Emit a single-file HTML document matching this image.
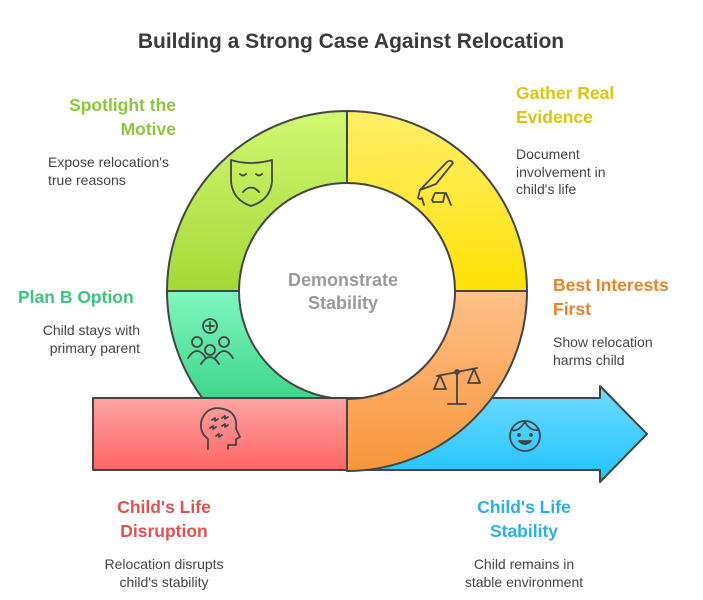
<!DOCTYPE html>
<html><head><meta charset="utf-8"><style>
body{margin:0;background:#fff;}
svg{display:block;font-family:"Liberation Sans",sans-serif;}
</style></head><body>
<svg width="703" height="600" viewBox="0 0 703 600">
<defs>
<linearGradient id="gl" x1="0" y1="0" x2="0" y2="1"><stop offset="0" stop-color="#d0f772"/><stop offset="1" stop-color="#a3d936"/></linearGradient>
<linearGradient id="gy" x1="0" y1="0" x2="0" y2="1"><stop offset="0" stop-color="#ffee6a"/><stop offset="1" stop-color="#ffe205"/></linearGradient>
<linearGradient id="gg" x1="0" y1="0" x2="0" y2="1"><stop offset="0" stop-color="#80f7c0"/><stop offset="1" stop-color="#3ed68a"/></linearGradient>
<linearGradient id="go" x1="0" y1="0" x2="0" y2="1"><stop offset="0" stop-color="#ffc088"/><stop offset="1" stop-color="#f7963b"/></linearGradient>
<linearGradient id="gr" x1="0" y1="0" x2="0" y2="1"><stop offset="0" stop-color="#ffa3a3"/><stop offset="1" stop-color="#ff6565"/></linearGradient>
<linearGradient id="gb" x1="0" y1="0" x2="0" y2="1"><stop offset="0" stop-color="#6fdcff"/><stop offset="1" stop-color="#1fc3ff"/></linearGradient>
</defs>
<text x="351" y="48" text-anchor="middle" font-size="21" font-weight="bold" fill="#3a3a3a">Building a Strong Case Against Relocation</text>

<g stroke="#444" stroke-width="2" stroke-linejoin="round">
<rect x="93" y="398" width="254" height="72" fill="url(#gr)"/>
<path d="M347,398 L600,398 L600,386 L647,434 L600,482 L600,470 L347,470 Z" fill="url(#gb)"/>
<path d="M167,291 A180,180 0 0 1 347,111 L347,183 A108,108 0 0 0 239,291 Z" fill="url(#gl)"/>
<path d="M347,111 A180,180 0 0 1 527,291 L455,291 A108,108 0 0 0 347,183 Z" fill="url(#gy)"/>
<path d="M167,291 L239,291 A108,108 0 0 0 332.3,398 L202.3,398 A180,180 0 0 1 167,291 Z" fill="url(#gg)"/>
<path d="M527,291 A180,180 0 0 1 347,471 L347,399 A108,108 0 0 0 455,291 Z" fill="url(#go)"/>
</g>

<text x="343" y="286" text-anchor="middle" font-size="18" font-weight="bold" fill="#999">Demonstrate</text>
<text x="343" y="309" text-anchor="middle" font-size="18" font-weight="bold" fill="#999">Stability</text>

<g fill="none" stroke="#444" stroke-width="1.8" stroke-linecap="round" stroke-linejoin="round">
<path d="M231,160 Q250,166 272,160 L272,182 Q270,200 251,206 Q233,200 231,182 Z"/>
<path d="M240,174 q3,3 6,0 M256,174 q3,3 6,0 M243,192 q8,-9 16,0"/>
<path d="M420,190 L447,162 q4,-3 6,1 L436,184 Z M420,190 L418,198 q2,2 4,0 L424,205 M432,200 l3,-7 h10 l-2,9 h-10 Z M446,193 l5,12"/>
<circle cx="210" cy="326" r="7"/><path d="M206,326 h8 M210,322 v8"/>
<circle cx="197" cy="342" r="5"/><path d="M188,358 q9,-14 18,0"/>
<circle cx="224" cy="342" r="5"/><path d="M215,358 q9,-14 18,0"/>
<circle cx="210" cy="350" r="5"/><path d="M201,364 q9,-14 18,0"/>
<path d="M457,372 v32 M448,404 h18 M437,376 l40,-8 M440,375 l-6,14 h12 z M474,369 l-6,14 h12 z"/>
<circle cx="457" cy="372" r="2"/>
<path d="M208,449 v-10 q-10,-8 -6,-20 q6,-14 22,-10 q14,4 12,20 l4,8 l-4,2 v6 h-8 v4"/>
<path d="M212,420 l3,-2 l0,3 l3,-2 M222,418 l3,-2 l0,3 l3,-2 M210,428 l3,-2 l0,3 l3,-2 M222,426 l3,-2 l0,3 l3,-2 M216,436 l3,-2 l0,3 l3,-2"/>
<circle cx="525" cy="436" r="15"/>
<path d="M512,430 q6,2 13,-8 q5,9 13,8"/>
<path d="M519,441 q6,6 12,0 z" fill="#444"/>
<circle cx="519" cy="435" r="1" fill="#444"/><circle cx="531" cy="435" r="1" fill="#444"/>
</g>

<g font-size="17.5" font-weight="bold">
<text x="176" y="111" text-anchor="end" fill="#8ec63a">Spotlight the</text>
<text x="176" y="135" text-anchor="end" fill="#8ec63a">Motive</text>
<text x="516" y="99" fill="#e0c30a">Gather Real</text>
<text x="516" y="123" fill="#e0c30a">Evidence</text>
<text x="18" y="303" fill="#3cc47c">Plan B Option</text>
<text x="553" y="291" fill="#e8842a">Best Interests</text>
<text x="553" y="315" fill="#e8842a">First</text>
<text x="164" y="513" text-anchor="middle" fill="#e25151">Child's Life</text>
<text x="164" y="537" text-anchor="middle" fill="#e25151">Disruption</text>
<text x="524" y="513" text-anchor="middle" fill="#2ab0e3">Child's Life</text>
<text x="524" y="537" text-anchor="middle" fill="#2ab0e3">Stability</text>
</g>
<g font-size="14" fill="#444">
<text x="48" y="167">Expose relocation's</text>
<text x="48" y="185">true reasons</text>
<text x="516" y="159">Document</text>
<text x="516" y="177">involvement in</text>
<text x="516" y="194">child's life</text>
<text x="140" y="335" text-anchor="end">Child stays with</text>
<text x="140" y="353" text-anchor="end">primary parent</text>
<text x="553" y="347">Show relocation</text>
<text x="553" y="365">harms child</text>
<text x="164" y="569" text-anchor="middle">Relocation disrupts</text>
<text x="164" y="587" text-anchor="middle">child's stability</text>
<text x="524" y="569" text-anchor="middle">Child remains in</text>
<text x="524" y="587" text-anchor="middle">stable environment</text>
</g>
</svg>
</body></html>
